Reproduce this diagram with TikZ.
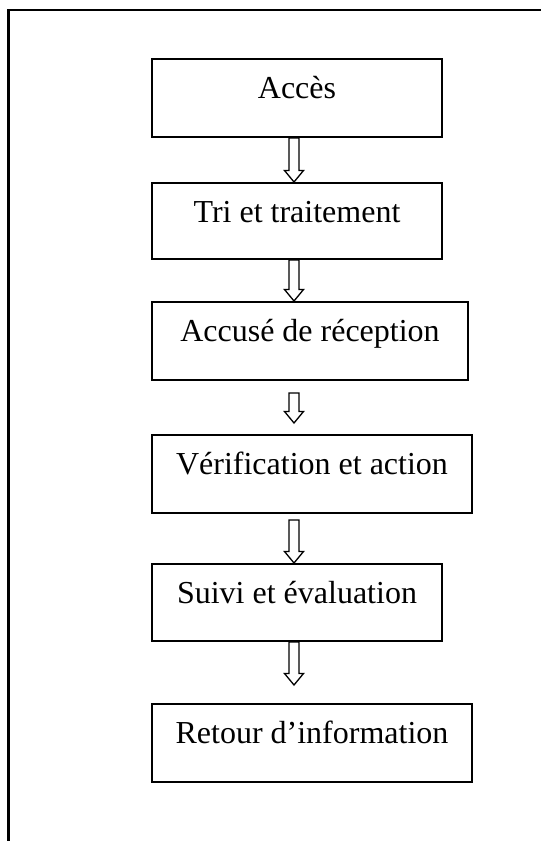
\documentclass[tikz,border=0pt]{standalone}
\usepackage{fontspec}
\setmainfont{Liberation Serif}
\usetikzlibrary{calc}

% hollow block arrow from #1 down to the tip #2
\newcommand{\fleche}[2]{%
  \draw[fleche] ($(#1)+(-5,0)$) -- ($(#2)+(-5,11.5)$) -- ($(#2)+(-9.5,11.5)$) -- (#2)
    -- ($(#2)+(9.5,11.5)$) -- ($(#2)+(5,11.5)$) -- ($(#1)+(5,0)$) -- cycle;}

\begin{document}
\begin{tikzpicture}[x=1pt, y=1pt,
  etape/.style = {rectangle, draw, line width=2pt, anchor=north west, inner sep=0pt,
                  text height=39pt, text depth=39pt, font=\fontsize{32}{38}\selectfont},
  fleche/.style = {line width=1.3pt}]

\useasboundingbox (0,0) rectangle (541,-841);
\draw[line width=2.6pt] (541,-10) -- (8.5,-10) -- (8.5,-841);

\node[etape, minimum width=290pt](acces) at (151,-58){Accès};
\node[etape, minimum width=290pt, text depth=37pt](tri) at (151,-182){Tri et traitement};
\node[etape, minimum width=316pt](accuse) at (151,-301){Accusé de réception};
\node[etape, minimum width=320pt](verif) at (151,-434){Vérification et action};
\node[etape, minimum width=290pt, text depth=38pt](suivi) at (151,-563){Suivi et évaluation};
\node[etape, minimum width=320pt](retour) at (151,-703){Retour d’information};

\coordinate (axe) at (294,0);

\coordinate (f1a) at (acces.south -| axe);
\coordinate (f1b) at (tri.north -| axe);
\coordinate (f2a) at (tri.south -| axe);
\coordinate (f2b) at (accuse.north -| axe);
\coordinate (f3a) at ($(accuse.south -| axe)+(0,-12)$);
\coordinate (f3b) at ($(verif.north -| axe)+(0,11)$);
\coordinate (f4a) at ($(verif.south -| axe)+(0,-6)$);
\coordinate (f4b) at (suivi.north -| axe);
\coordinate (f5a) at (suivi.south -| axe);
\coordinate (f5b) at ($(retour.north -| axe)+(0,18)$);

\fleche{f1a}{f1b}
\fleche{f2a}{f2b}
\fleche{f3a}{f3b}
\fleche{f4a}{f4b}
\fleche{f5a}{f5b}

\end{tikzpicture}
\end{document}
